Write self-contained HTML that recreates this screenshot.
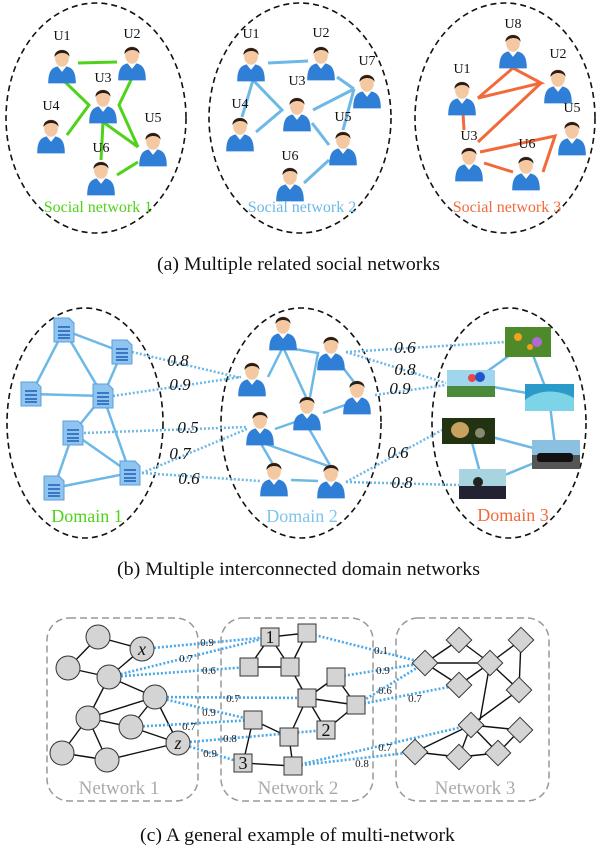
<!DOCTYPE html>
<html><head><meta charset="utf-8"><style>
html,body{margin:0;padding:0;background:#fff;}
svg{display:block;font-family:"Liberation Serif",serif;}
</style></head><body>
<svg width="600" height="848" viewBox="0 0 600 848" xmlns="http://www.w3.org/2000/svg">
<defs>
<g id="p" transform="scale(1.15)">
<path d="M-12,16 C-12,4 -8,1 0,1 C8,1 12,4 12,16 Z" fill="#2f7fd6"/>
<path d="M-4,1 L0,6 L4,1 Z" fill="#fff"/>
<ellipse cx="0" cy="-6" rx="6" ry="7.5" fill="#f4c9a2"/>
<path d="M-6.5,-7 C-7,-15 7,-15 6.5,-7 C5,-11 -3,-12 -6.5,-7 Z" fill="#2a1d15"/>
</g>
<g id="d">
<path d="M-10,-12 L5,-12 L10,-7 L10,12 L-10,12 Z" fill="#8ec4ef" stroke="#5a9fd8" stroke-width="1"/>
<g stroke="#1f5fb8" stroke-width="1.5"><line x1="-6" y1="-3" x2="6" y2="-3"/><line x1="-6" y1="1" x2="6" y2="1"/><line x1="-6" y1="5" x2="6" y2="5"/><line x1="-6" y1="8" x2="6" y2="8"/></g>
</g>
<rect id="s" x="-9" y="-9" width="18" height="18" fill="#d4d4d4" stroke="#333" stroke-width="1"/>
<rect id="dm" x="-9" y="-9" width="18" height="18" fill="#d4d4d4" stroke="#333" stroke-width="1" transform="rotate(45)"/>
</defs>

<!-- (a) -->
<g fill="none" stroke="#111" stroke-width="1.6" stroke-dasharray="6,4">
<ellipse cx="96" cy="118" rx="90" ry="115"/>
<ellipse cx="300" cy="118" rx="91" ry="115"/>
<ellipse cx="505" cy="118" rx="90" ry="115"/>
</g>
<g stroke="#4fd21a" stroke-width="3" fill="none">
<line x1="78" y1="63" x2="117" y2="62"/>
<polyline points="63,80 89,105 67,135"/>
<polyline points="132,78 119,105 138,147"/>
<line x1="103" y1="122" x2="101" y2="160"/>
<line x1="103" y1="122" x2="138" y2="147"/>
<line x1="117" y1="175" x2="138" y2="162"/>
</g>
<g stroke="#6cb8e6" stroke-width="3" fill="none">
<line x1="268" y1="63" x2="308" y2="61"/>
<polyline points="253,80 282,110 256,132"/>
<line x1="242" y1="117" x2="253" y2="80"/>
<line x1="337" y1="77" x2="354" y2="89"/>
<line x1="313" y1="110" x2="354" y2="89"/>
<line x1="354" y1="89" x2="343" y2="130"/>
<line x1="312" y1="123" x2="329" y2="145"/>
<line x1="329" y1="160" x2="304" y2="183"/>
</g>
<g stroke="#f26a3a" stroke-width="3" fill="none">
<polygon points="478,98 513,68 541,83"/>
<line x1="478" y1="142" x2="541" y2="83"/>
<line x1="463" y1="113" x2="464" y2="130"/>
<polyline points="480,152 555,136 543,172"/>
<line x1="484" y1="163" x2="513" y2="172"/>
</g>
<g>
<use href="#p" x="62" y="65"/><use href="#p" x="132" y="62"/><use href="#p" x="103" y="105"/><use href="#p" x="51" y="135"/><use href="#p" x="153" y="148"/><use href="#p" x="101" y="177"/>
<use href="#p" x="251" y="63"/><use href="#p" x="321" y="62"/><use href="#p" x="367" y="90"/><use href="#p" x="297" y="113"/><use href="#p" x="240" y="133"/><use href="#p" x="343" y="147"/><use href="#p" x="290" y="183"/>
<use href="#p" x="513" y="50"/><use href="#p" x="558" y="85"/><use href="#p" x="462" y="97"/><use href="#p" x="572" y="137"/><use href="#p" x="469" y="163"/><use href="#p" x="526" y="172"/>
</g>
<g font-size="14" text-anchor="middle" fill="#111">
<text x="62" y="40">U1</text><text x="132" y="38">U2</text><text x="103" y="82">U3</text><text x="51" y="110">U4</text><text x="153" y="122">U5</text><text x="101" y="152">U6</text>
<text x="251" y="38">U1</text><text x="321" y="37">U2</text><text x="367" y="65">U7</text><text x="297" y="85">U3</text><text x="240" y="108">U4</text><text x="343" y="121">U5</text><text x="290" y="160">U6</text>
<text x="513" y="28">U8</text><text x="558" y="58">U2</text><text x="462" y="73">U1</text><text x="572" y="112">U5</text><text x="469" y="140">U3</text><text x="527" y="148">U6</text>
</g>
<g font-size="16" text-anchor="middle">
<text x="98" y="212" fill="#4fd21a">Social network 1</text>
<text x="302" y="212" fill="#6cb8e6">Social network 2</text>
<text x="507" y="212" fill="#f26a3a">Social network 3</text>
</g>
<text x="157" y="270" font-size="19" fill="#111" textLength="283" lengthAdjust="spacingAndGlyphs">(a)  Multiple related social networks</text>

<!-- (b) -->
<g fill="none" stroke="#111" stroke-width="1.6" stroke-dasharray="6,4">
<ellipse cx="85" cy="423" rx="78" ry="115"/>
<ellipse cx="301" cy="423" rx="80" ry="115"/>
<ellipse cx="509" cy="423" rx="77" ry="115"/>
</g>
<g stroke="#6cb8e6" stroke-width="2.5" fill="none">
<line x1="64" y1="330" x2="122" y2="352"/><line x1="64" y1="330" x2="31" y2="394"/><line x1="64" y1="330" x2="103" y2="396"/>
<line x1="122" y1="352" x2="103" y2="396"/><line x1="31" y1="394" x2="103" y2="396"/><line x1="103" y1="396" x2="73" y2="433"/>
<line x1="103" y1="396" x2="130" y2="473"/><line x1="73" y1="433" x2="130" y2="473"/><line x1="73" y1="433" x2="54" y2="488"/><line x1="54" y1="488" x2="130" y2="473"/>
<line x1="268" y1="377" x2="283" y2="347"/><polyline points="283,347 318,353 310,397"/><line x1="283" y1="347" x2="306" y2="397"/>
<line x1="331" y1="352" x2="357" y2="386"/><line x1="323" y1="413" x2="345" y2="405"/><line x1="275" y1="429" x2="295" y2="422"/>
<line x1="260" y1="442" x2="331" y2="467"/><line x1="260" y1="442" x2="274" y2="466"/><line x1="291" y1="480" x2="318" y2="481"/><line x1="308" y1="427" x2="331" y2="467"/>
<line x1="528" y1="342" x2="471" y2="383"/><line x1="528" y1="342" x2="549" y2="397"/><line x1="471" y1="383" x2="549" y2="397"/><line x1="549" y1="397" x2="556" y2="454"/>
<line x1="469" y1="431" x2="556" y2="454"/><line x1="469" y1="431" x2="483" y2="484"/><line x1="483" y1="484" x2="556" y2="454"/>
</g>
<g stroke="#6cb8e6" stroke-width="2.5" stroke-dasharray="2,2" fill="none">
<line x1="132" y1="352" x2="241" y2="378"/><line x1="113" y1="396" x2="241" y2="377"/><line x1="84" y1="433" x2="247" y2="427"/>
<line x1="142" y1="473" x2="247" y2="429"/><line x1="142" y1="473" x2="260" y2="481"/>
<line x1="346" y1="352" x2="505" y2="342"/><line x1="346" y1="352" x2="446" y2="383"/><line x1="375" y1="395" x2="446" y2="385"/>
<line x1="346" y1="482" x2="442" y2="430"/><line x1="346" y1="482" x2="459" y2="485"/>
</g>
<g>
<use href="#d" x="64" y="330"/><use href="#d" x="122" y="352"/><use href="#d" x="31" y="394"/><use href="#d" x="103" y="396"/><use href="#d" x="73" y="433"/><use href="#d" x="130" y="473"/><use href="#d" x="54" y="488"/>
<use href="#p" x="283" y="332"/><use href="#p" x="331" y="352"/><use href="#p" x="252" y="378"/><use href="#p" x="357" y="396"/><use href="#p" x="307" y="412"/><use href="#p" x="260" y="427"/><use href="#p" x="274" y="478"/><use href="#p" x="331" y="480"/>
</g>
<g>
<rect x="505" y="327" width="46" height="30" fill="#4f8a2a"/><circle cx="518" cy="337" r="4" fill="#f3a020"/><circle cx="530" cy="347" r="3" fill="#f3a020"/><circle cx="537" cy="342" r="5" fill="#b06ad8"/>
<rect x="447" y="370" width="48" height="27" fill="#9fd6ee"/><rect x="447" y="386" width="48" height="11" fill="#4a8a3a"/><circle cx="472" cy="378" r="4" fill="#e44"/><circle cx="480" cy="377" r="5" fill="#2255cc"/>
<rect x="525" y="384" width="49" height="27" fill="#2a9ac8"/><path d="M525,400 C540,388 560,390 574,398 L574,411 L525,411Z" fill="#7dd3e8"/>
<rect x="442" y="418" width="53" height="26" fill="#223311"/><ellipse cx="460" cy="430" rx="9" ry="8" fill="#c8a060"/><ellipse cx="480" cy="433" rx="5" ry="5" fill="#8a8a70"/>
<rect x="532" y="440" width="48" height="29" fill="#8cc0e0"/><rect x="532" y="455" width="48" height="14" fill="#555"/><rect x="537" y="453" width="36" height="9" rx="3" fill="#111"/>
<rect x="459" y="469" width="47" height="30" fill="#a8d4e0"/><rect x="459" y="486" width="47" height="13" fill="#223"/><circle cx="478" cy="482" r="5" fill="#222"/>
</g>
<g font-size="17" font-style="italic" fill="#111" text-anchor="middle">
<text x="178" y="366">0.8</text><text x="180" y="390">0.9</text><text x="188" y="433">0.5</text><text x="180" y="459">0.7</text><text x="189" y="484">0.6</text>
<text x="405" y="353">0.6</text><text x="405" y="375">0.8</text><text x="400" y="394">0.9</text><text x="398" y="458">0.6</text><text x="402" y="488">0.8</text>
</g>
<g font-size="18" text-anchor="middle">
<text x="87" y="522" fill="#4fd21a">Domain  1</text>
<text x="302" y="522" fill="#7ec4ec">Domain 2</text>
<text x="513" y="521" fill="#f26a3a">Domain 3</text>
</g>
<text x="117" y="575" font-size="19" fill="#111" textLength="363" lengthAdjust="spacingAndGlyphs">(b)  Multiple interconnected domain networks</text>

<!-- (c) -->
<g fill="none" stroke="#999" stroke-width="1.5" stroke-dasharray="7,4">
<rect x="47" y="618" width="151" height="183" rx="22"/>
<rect x="221" y="618" width="152" height="183" rx="22"/>
<rect x="396" y="618" width="153" height="183" rx="22"/>
</g>
<g stroke="#111" stroke-width="1.4">
<line x1="98" y1="637" x2="142" y2="649"/><line x1="98" y1="637" x2="68" y2="668"/><line x1="142" y1="649" x2="109" y2="677"/><line x1="68" y1="668" x2="109" y2="677"/>
<line x1="109" y1="677" x2="155" y2="697"/><line x1="109" y1="677" x2="88" y2="718"/><line x1="88" y1="718" x2="155" y2="697"/><line x1="88" y1="718" x2="131" y2="727"/>
<line x1="131" y1="727" x2="155" y2="697"/><line x1="155" y1="697" x2="178" y2="743"/><line x1="131" y1="727" x2="178" y2="743"/><line x1="88" y1="718" x2="62" y2="753"/>
<line x1="88" y1="718" x2="107" y2="760"/><line x1="62" y1="753" x2="107" y2="760"/><line x1="107" y1="760" x2="178" y2="743"/>
<line x1="270" y1="637" x2="307" y2="633"/><line x1="270" y1="637" x2="249" y2="667"/><line x1="270" y1="637" x2="290" y2="667"/><line x1="290" y1="667" x2="307" y2="633"/>
<line x1="249" y1="667" x2="290" y2="667"/><line x1="290" y1="667" x2="307" y2="698"/><line x1="307" y1="698" x2="336" y2="677"/><line x1="307" y1="698" x2="356" y2="705"/>
<line x1="336" y1="677" x2="356" y2="705"/><line x1="356" y1="705" x2="326" y2="730"/><line x1="307" y1="698" x2="326" y2="730"/><line x1="307" y1="698" x2="289" y2="737"/>
<line x1="253" y1="720" x2="289" y2="737"/><line x1="253" y1="720" x2="243" y2="763"/><line x1="289" y1="737" x2="293" y2="766"/><line x1="243" y1="763" x2="293" y2="766"/>
<line x1="425" y1="663" x2="459" y2="640"/><line x1="459" y1="640" x2="490" y2="663"/><line x1="425" y1="663" x2="490" y2="663"/><line x1="425" y1="663" x2="459" y2="685"/>
<line x1="459" y1="685" x2="490" y2="663"/><line x1="490" y1="663" x2="521" y2="640"/><line x1="521" y1="640" x2="519" y2="690"/><line x1="490" y1="663" x2="519" y2="690"/>
<line x1="490" y1="663" x2="480" y2="720"/><line x1="519" y1="690" x2="471" y2="725"/><line x1="471" y1="725" x2="520" y2="730"/><line x1="415" y1="752" x2="471" y2="725"/>
<line x1="415" y1="752" x2="459" y2="757"/><line x1="459" y1="757" x2="471" y2="725"/><line x1="471" y1="725" x2="498" y2="753"/><line x1="498" y1="753" x2="520" y2="730"/><line x1="459" y1="757" x2="498" y2="753"/>
</g>
<g stroke="#4aa8e8" stroke-width="2.6" stroke-dasharray="2,2" fill="none">
<line x1="142" y1="649" x2="270" y2="637"/><line x1="109" y1="677" x2="270" y2="637"/><line x1="109" y1="677" x2="249" y2="667"/>
<line x1="155" y1="697" x2="307" y2="698"/><line x1="155" y1="697" x2="253" y2="720"/><line x1="131" y1="727" x2="253" y2="720"/>
<line x1="178" y1="743" x2="326" y2="730"/><line x1="178" y1="743" x2="243" y2="763"/>
<line x1="307" y1="633" x2="425" y2="663"/><line x1="336" y1="677" x2="425" y2="663"/><line x1="356" y1="705" x2="425" y2="663"/>
<line x1="356" y1="705" x2="459" y2="685"/><line x1="293" y1="766" x2="471" y2="725"/><line x1="293" y1="766" x2="415" y2="752"/>
</g>
<g fill="#d4d4d4" stroke="#333" stroke-width="1">
<circle cx="98" cy="637" r="12"/><circle cx="142" cy="649" r="12"/><circle cx="68" cy="668" r="12"/><circle cx="109" cy="677" r="12"/><circle cx="155" cy="697" r="12"/>
<circle cx="88" cy="718" r="12"/><circle cx="131" cy="727" r="12"/><circle cx="178" cy="743" r="12"/><circle cx="62" cy="753" r="12"/><circle cx="107" cy="760" r="12"/>
</g>
<g>
<use href="#s" x="270" y="637"/><use href="#s" x="307" y="633"/><use href="#s" x="249" y="667"/><use href="#s" x="290" y="667"/><use href="#s" x="336" y="677"/><use href="#s" x="307" y="698"/>
<use href="#s" x="356" y="705"/><use href="#s" x="253" y="720"/><use href="#s" x="326" y="730"/><use href="#s" x="289" y="737"/><use href="#s" x="243" y="763"/><use href="#s" x="293" y="766"/>
<use href="#dm" x="459" y="640"/><use href="#dm" x="521" y="640"/><use href="#dm" x="425" y="663"/><use href="#dm" x="490" y="663"/><use href="#dm" x="459" y="685"/><use href="#dm" x="519" y="690"/>
<use href="#dm" x="471" y="725"/><use href="#dm" x="520" y="730"/><use href="#dm" x="415" y="752"/><use href="#dm" x="459" y="757"/><use href="#dm" x="498" y="753"/>
</g>
<g font-size="18" text-anchor="middle" fill="#111">
<text x="142" y="655" font-style="italic">x</text><text x="178" y="749" font-style="italic">z</text>
<text x="270" y="643">1</text><text x="326" y="736">2</text><text x="243" y="769">3</text>
</g>
<g font-size="11" text-anchor="middle" fill="#222">
<text x="207" y="646">0.9</text><text x="186" y="662">0.7</text><text x="209" y="674">0.6</text><text x="233" y="702">0.7</text><text x="209" y="716">0.9</text>
<text x="189" y="730">0.7</text><text x="230" y="742">0.8</text><text x="210" y="757">0.9</text>
<text x="381" y="654">0.1</text><text x="383" y="674">0.9</text><text x="385" y="694">0.6</text><text x="415" y="702">0.7</text><text x="385" y="751">0.7</text><text x="362" y="767">0.8</text>
</g>
<g font-size="19" text-anchor="middle" fill="#aaa">
<text x="119" y="794">Network 1</text><text x="298" y="794">Network 2</text><text x="475" y="794">Network 3</text>
</g>
<text x="140" y="841" font-size="19" fill="#111" textLength="315" lengthAdjust="spacingAndGlyphs">(c)  A general example of multi-network</text>
</svg>
</body></html>
